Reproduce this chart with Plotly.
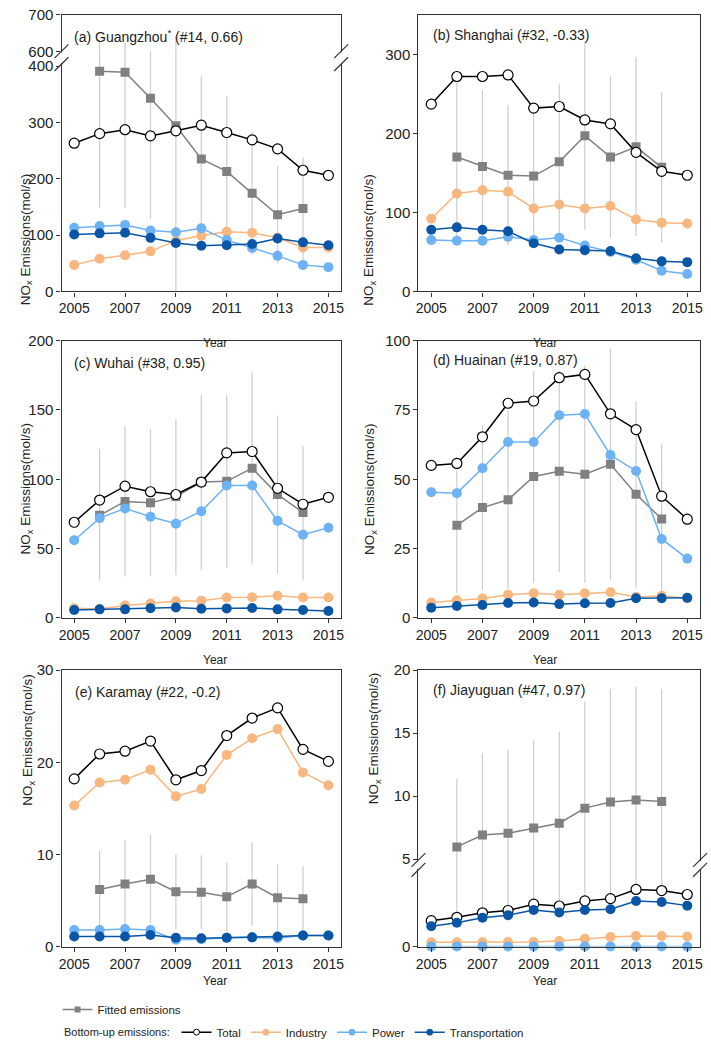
import plotly.graph_objects as go

W, H = 711, 1050

YEARS = list(range(2005, 2016))
FIT_YEARS = list(range(2006, 2015))

# (a) Guangzhou
gz_total = [263, 280, 287, 276, 285, 295, 282, 269, 253, 215, 206]
gz_industry = [47, 58, 64, 71, 90, 99, 106, 104, 95, 78, 78]
gz_power = [113, 116, 118, 108, 105, 112, 91, 77, 63, 47, 43]
gz_transport = [101, 103, 104, 95, 86, 81, 82, 84, 94, 87, 82]
gz_fitted = [391, 389, 343, 294, 235, 213, 174, 136, 147]
gz_fit_lo = [149, 149, 129, 0, 87, 78, 65, 50, 55]
gz_fit_hi = [628, 625, 557, 642, 382, 347, 283, 222, 238]

# (b) Shanghai
sh_total = [237, 272, 272, 274, 232, 234, 217, 212, 176, 152, 147]
sh_industry = [92, 124, 128, 126, 105, 110, 105, 108, 91, 87, 86]
sh_power = [65, 64, 64, 69, 65, 68, 58, 50, 40, 26, 22]
sh_transport = [78, 81, 78, 76, 61, 53, 52, 51, 42, 38, 37]
sh_fitted = [170, 158, 147, 146, 164, 197, 170, 183, 157]
sh_fit_lo = [70, 62, 58, 58, 65, 78, 68, 70, 62]
sh_fit_hi = [270, 255, 236, 235, 263, 317, 273, 297, 252]

# (c) Wuhai
wh_total = [69, 85, 95, 91, 89, 98, 119, 120, 93.5, 82, 87]
wh_industry = [7, 6.5, 9, 10.5, 12, 12.5, 14.7, 15, 16, 14.7, 14.7]
wh_power = [56, 72, 79, 73, 68, 77, 95.5, 95.5, 70, 60, 65]
wh_transport = [5.7, 6.2, 6.2, 7, 7.6, 6.6, 6.9, 7.2, 6.2, 5.7, 5]
wh_fitted = [74, 84, 83, 87.5, 98, 98.5, 108, 89, 76]
wh_fit_lo = [27, 30, 30, 31, 35, 36, 39, 32, 27]
wh_fit_hi = [122, 138, 136, 143, 161, 161, 177, 146, 124]

# (d) Huainan
hn_total = [55, 55.7, 65.3, 77.4, 78.2, 86.6, 87.8, 73.6, 67.9, 43.9, 35.6]
hn_industry = [5.6, 6.4, 7, 8.4, 8.9, 8.4, 8.9, 9.3, 7.6, 8, 7]
hn_power = [45.3, 45, 54, 63.4, 63.4, 73.1, 73.5, 58.7, 53, 28.5, 21.4]
hn_transport = [3.7, 4.3, 4.7, 5.4, 5.6, 5, 5.3, 5.4, 7.1, 7.1, 7.3]
hn_fitted = [33.4, 39.8, 42.6, 51, 52.9, 51.8, 55.4, 44.6, 35.7]
hn_fit_lo = [9, 10, 10.5, 12.7, 16.6, 12.7, 13.5, 11, 8.4]
hn_fit_hi = [58, 69.5, 75, 89, 89, 91, 97, 78, 63]

# (e) Karamay
km_total = [18.2, 20.9, 21.2, 22.3, 18.1, 19.1, 22.9, 24.8, 25.9, 21.4, 20.1]
km_industry = [15.3, 17.8, 18.1, 19.2, 16.3, 17.1, 20.8, 22.6, 23.6, 18.9, 17.5]
km_power = [1.8, 1.8, 1.9, 1.8, 0.75, 0.8, 0.95, 1.0, 0.9, 1.2, 1.2]
km_transport = [1.1, 1.1, 1.1, 1.25, 0.95, 0.9, 0.95, 1.0, 1.1, 1.2, 1.2]
km_fitted = [6.2, 6.8, 7.3, 5.95, 5.9, 5.4, 6.8, 5.3, 5.2]
km_fit_lo = [2.1, 2.2, 2.5, 1.9, 1.9, 1.7, 2.3, 1.7, 1.7]
km_fit_hi = [10.4, 11.5, 12.1, 10, 9.9, 9.1, 11.3, 8.9, 8.7]

# (f) Jiayuguan
jy_total = [1.44, 1.63, 1.88, 2.01, 2.36, 2.26, 2.54, 2.67, 3.18, 3.12, 2.90]
jy_industry = [0.24, 0.24, 0.24, 0.25, 0.25, 0.31, 0.44, 0.53, 0.59, 0.59, 0.56]
jy_power = [0, 0, 0, 0, 0, 0, 0, 0, 0, 0, 0]
jy_transport = [1.13, 1.33, 1.61, 1.75, 2.04, 1.90, 2.04, 2.08, 2.54, 2.48, 2.28]
jy_fitted = [5.96, 6.9, 7.05, 7.47, 7.84, 9.04, 9.53, 9.69, 9.56]
jy_fit_lo = [1.9, 2.0, 2.1, 2.5, 2.4, 2.7, 2.8, 3.3, 3.2]
jy_fit_hi = [11.4, 13.4, 13.7, 14.4, 15.1, 17.5, 18.5, 18.7, 18.5]

FONT = "Liberation Sans, Arial, sans-serif"
C_IND = "#f8b77f"
C_PWR = "#6cb2f4"
C_TRN = "#0a56a6"
C_FIT = "#808080"
C_ERR = "#cdcdcd"
AXIS_C = "#333333"

# pixel -> paper helpers (margins are 0, so paper == page)
def fx(px):
    return px / W

def fy(py):
    return 1 - py / H

LEFT, RIGHT = (59, 341), (419, 703)
ROW1, ROW2, ROW3 = (6, 287), (337, 619), (672, 953)


def xaxis_cfg(cols, anchor, mirror=True, labels=True, side="bottom"):
    return dict(domain=[fx(cols[0]), fx(cols[1])], anchor=anchor, range=[2004.5, 2015.5],
                tickvals=YEARS[::2], showline=True, linecolor=AXIS_C, linewidth=1.3,
                mirror=mirror, ticks="outside" if labels else "", ticklen=4, tickcolor=AXIS_C,
                showgrid=False, zeroline=False, showticklabels=labels, side=side,
                tickfont=dict(size=14, color="#222"))


def yaxis_cfg(top, bot, anchor, rng, tickvals):
    return dict(domain=[fy(bot), fy(top)], anchor=anchor, range=rng, tickvals=tickvals,
                showline=True, linecolor=AXIS_C, linewidth=1.3, mirror=True,
                ticks="outside", ticklen=4, tickcolor=AXIS_C, showgrid=False,
                zeroline=False, tickfont=dict(size=15, color="#222"))


def bar_segments(years, lo, hi):
    xs, ys = [], []
    for x, a, b in zip(years, lo, hi):
        xs += [x, x, None]
        ys += [a, b, None]
    return xs, ys


fig = go.Figure()


def draw_panel(xa, ya, total, ind, pwr, trn, fit, lo, hi, upper=None):
    axes = [(xa, ya)] + ([upper] if upper else [])
    sx, sy = bar_segments(FIT_YEARS, lo, hi)
    for ax_x, ax_y in axes:
        fig.add_trace(go.Scatter(x=sx, y=sy, mode="lines", line=dict(color=C_ERR, width=1.2),
                                 xaxis=ax_x, yaxis=ax_y, showlegend=False, hoverinfo="skip"))
    for ax_x, ax_y in axes:
        fig.add_trace(go.Scatter(x=FIT_YEARS, y=fit, mode="lines+markers",
                                 line=dict(color=C_FIT, width=1.5),
                                 marker=dict(symbol="square", size=9, color=C_FIT),
                                 xaxis=ax_x, yaxis=ax_y, showlegend=False))
    fig.add_trace(go.Scatter(x=YEARS, y=total, mode="lines+markers", line=dict(color="black", width=1.5),
                             marker=dict(size=10, color="white", line=dict(color="black", width=1.2)),
                             xaxis=xa, yaxis=ya, showlegend=False, cliponaxis=False))
    for vals, color in [(ind, C_IND), (pwr, C_PWR), (trn, C_TRN)]:
        fig.add_trace(go.Scatter(x=YEARS, y=vals, mode="lines+markers", line=dict(color=color, width=1.5),
                                 marker=dict(size=10, color=color),
                                 xaxis=xa, yaxis=ya, showlegend=False, cliponaxis=False))


draw_panel("x", "y", gz_total, gz_industry, gz_power, gz_transport,
           gz_fitted, gz_fit_lo, gz_fit_hi, upper=("x7", "y7"))
draw_panel("x2", "y2", sh_total, sh_industry, sh_power, sh_transport,
           sh_fitted, sh_fit_lo, sh_fit_hi)
draw_panel("x3", "y3", wh_total, wh_industry, wh_power, wh_transport,
           wh_fitted, wh_fit_lo, wh_fit_hi)
draw_panel("x4", "y4", hn_total, hn_industry, hn_power, hn_transport,
           hn_fitted, hn_fit_lo, hn_fit_hi)
draw_panel("x5", "y5", km_total, km_industry, km_power, km_transport,
           km_fitted, km_fit_lo, km_fit_hi)
draw_panel("x6", "y6", jy_total, jy_industry, jy_power, jy_transport,
           jy_fitted, jy_fit_lo, jy_fit_hi, upper=("x8", "y8"))

# legend-only entries
fig.add_trace(go.Scatter(x=[None], y=[None], mode="lines+markers", name="Fitted emissions",
                         line=dict(color=C_FIT, width=1.5), marker=dict(symbol="square", size=6, color=C_FIT),
                         legend="legend"))
legend_items = [("Total", "black", "white"), ("Industry", C_IND, C_IND),
                ("Power", C_PWR, C_PWR), ("Transportation", C_TRN, C_TRN)]
for name, lc, fc in legend_items:
    fig.add_trace(go.Scatter(x=[None], y=[None], mode="lines+markers", name=name,
                             line=dict(color=lc, width=1.5),
                             marker=dict(size=6, color=fc, line=dict(color=lc, width=1)),
                             legend="legend2"))

# (a) split axis: 600-700 above, 0-400 below
A_SPLIT = 43
a_low_top = 400 * (ROW1[1] - A_SPLIT) / (ROW1[1] - 58)
# (f) split axis: 5-20 above, 0-~4.9 below
F_SPLIT = 864
f_low_top = (ROW3[1] - F_SPLIT) / 18.25

fig.update_layout(
    xaxis=xaxis_cfg(LEFT, "y", mirror=False),
    yaxis=yaxis_cfg(A_SPLIT, ROW1[1], "x", [0, a_low_top], [0, 100, 200, 300, 400]),
    xaxis7=xaxis_cfg(LEFT, "y7", mirror=False, labels=False, side="top"),
    yaxis7=yaxis_cfg(ROW1[0], A_SPLIT, "x7", [600, 700], [600, 700]),
    xaxis2=xaxis_cfg(RIGHT, "y2"),
    yaxis2=yaxis_cfg(ROW1[0], ROW1[1], "x2", [0, 350], [0, 100, 200, 300]),
    xaxis3=xaxis_cfg(LEFT, "y3"),
    yaxis3=yaxis_cfg(ROW2[0], ROW2[1], "x3", [0, 200], [0, 50, 100, 150, 200]),
    xaxis4=xaxis_cfg(RIGHT, "y4"),
    yaxis4=yaxis_cfg(ROW2[0], ROW2[1], "x4", [0, 100], [0, 25, 50, 75, 100]),
    xaxis5=xaxis_cfg(LEFT, "y5"),
    yaxis5=yaxis_cfg(ROW3[0], ROW3[1], "x5", [0, 30], [0, 10, 20, 30]),
    xaxis6=xaxis_cfg(RIGHT, "y6", mirror=False),
    yaxis6=yaxis_cfg(F_SPLIT, ROW3[1], "x6", [0, f_low_top], [0]),
    xaxis8=xaxis_cfg(RIGHT, "y8", mirror=False, labels=False, side="top"),
    yaxis8=yaxis_cfg(ROW3[0], F_SPLIT, "x8", [5, 20], [5, 10, 15, 20]),
)


def add_break(x_px, y_px, half_gap):
    # hide a bit of the axis line and draw the two "//" marks
    fig.add_shape(type="line", xref="paper", yref="paper", x0=fx(x_px), x1=fx(x_px),
                  y0=fy(y_px - half_gap + 1), y1=fy(y_px + half_gap - 1),
                  line=dict(color="white", width=5), layer="above")
    for dy in (-half_gap, half_gap):
        fig.add_shape(type="line", xref="paper", yref="paper",
                      x0=fx(x_px - 7), y0=fy(y_px + dy + 7), x1=fx(x_px + 7), y1=fy(y_px + dy - 7),
                      line=dict(color=AXIS_C, width=1.2), layer="above")


add_break(LEFT[0], 49.5, 6.5)
add_break(LEFT[1], 49.5, 6.5)
add_break(RIGHT[0], 870, 5)
add_break(RIGHT[1], 870, 5)

labels = [
    ("(a) Guangzhou<sup>*</sup> (#14, 0.66)", 70, 27),
    ("(b) Shanghai (#32, -0.33)", 432, 26),
    ("(c) Wuhai (#38, 0.95)", 70, 360),
    ("(d) Huainan (#19, 0.87)", 432, 357),
    ("(e) Karamay (#22, -0.2)", 71, 694),
    ("(f) Jiayuguan (#47, 0.97)", 432, 692),
]
for text, x, y in labels:
    fig.add_annotation(text=text, x=fx(x), y=fy(y), xref="paper", yref="paper",
                       xanchor="left", yanchor="middle", showarrow=False,
                       font=dict(size=14, color="#222"))

ytitle = "NO<sub>x</sub> Emissions(mol/s)"
for x, y in [(13, 166), (370, 166), (13, 488), (370, 488), (15, 812), (375, 810)]:
    fig.add_annotation(text=ytitle, x=fx(x), y=fy(y), xref="paper", yref="paper",
                       textangle=-90, showarrow=False, font=dict(size=13.5, color="#222"))

for x, y in [(200, 330), (561, 330), (200, 662), (561, 662), (200, 997), (561, 997)]:
    fig.add_annotation(text="Year", x=fx(x), y=fy(y), xref="paper", yref="paper",
                       showarrow=False, font=dict(size=12, color="#222"))

# label in front of the second legend row
fig.add_annotation(text="Bottom-up emissions:", x=fx(59), y=fy(1040), xref="paper", yref="paper",
                   xanchor="left", yanchor="middle", showarrow=False,
                   font=dict(size=11, color="#222"))

fig.update_layout(
    width=W, height=H, autosize=False,
    margin=dict(l=0, r=0, t=0, b=0),
    paper_bgcolor="white", plot_bgcolor="white",
    font=dict(family=FONT, color="#222"),
    legend=dict(x=fx(55), y=fy(1017), xanchor="left", yanchor="middle", orientation="h",
                font=dict(size=11.5), bgcolor="rgba(0,0,0,0)"),
    legend2=dict(x=fx(175), y=fy(1040), xanchor="left", yanchor="middle", orientation="h",
                 font=dict(size=11.5), bgcolor="rgba(0,0,0,0)"),
    hovermode=False,
)

# drop the default 8px body margin so the figure sits at the page origin
fig.write_html("out.html", config={"displayModeBar": False},
               post_script="document.body.style.margin='0';")
